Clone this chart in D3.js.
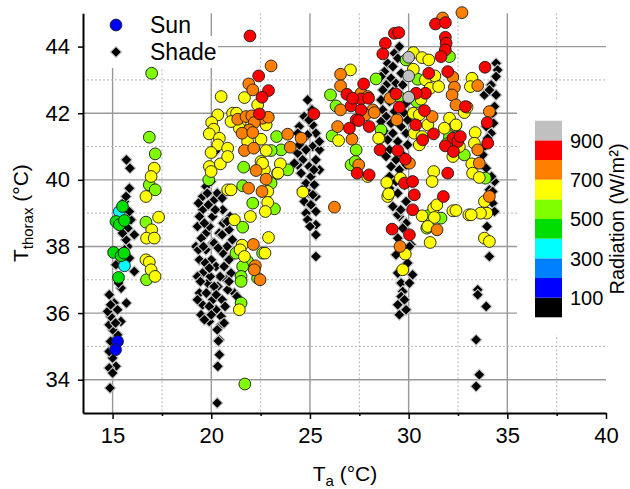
<!DOCTYPE html>
<html>
<head>
<meta charset="utf-8">
<script src="https://cdn.jsdelivr.net/npm/d3@7"></script>
<style>
  body { margin: 0; background: #fff; }
  text { font-family: Arial, "Liberation Sans", sans-serif; fill: #000; }
</style>
</head>
<body>
<svg id="chart" width="630" height="489"></svg>
<script>
// ---- data: [Ta, Tthorax] ----
var shadeT15 = [[14.87,33.75],[15.17,34.4],[14.83,34.35],[15.0,34.65],[14.83,34.85],[15.08,35.0],[14.9,35.15],
  [15.25,35.35],[15.0,35.5],[14.83,35.65],[15.42,35.75],[14.9,35.9],[14.75,36.05],[15.08,36.3],[14.9,36.25],
  [14.83,36.55],[15.7,36.3],[15.43,36.75],[15.17,37.45],[16.1,37.25],[15.85,37.65],[15.77,38.0],[15.68,38.2],
  [16.1,38.35],[15.77,38.55],[15.93,38.8],[15.85,39.05],[15.6,39.35],[15.68,39.5],[15.85,39.75],[15.88,40.35],
  [15.7,40.6],[15.3,36.9],[15.6,37.9],[15.5,38.4],[15.0,34.2],[15.1,34.95],[15.15,35.7],[15.25,36.1]];

var shadeT20 = [[19.56,39.5],[19.73,39.8],[19.99,39.95],[19.56,39.1],[20.15,39.4],[20.07,38.9],[20.58,39.1],
  [20.9,38.5],[21.07,38.2],[19.4,38.9],[19.73,38.4],[20.4,38.4],[20.07,38.1],[19.22,38.0],[19.4,37.6],[19.56,37.2],
  [19.4,36.6],[19.56,36.25],[20.07,36.4],[20.24,36.1],[20.5,35.9],[19.82,36.9],[20.24,37.4],[19.73,37.9],
  [20.15,38.1],[20.58,37.8],[20.33,36.8],[19.48,35.95],[19.9,35.75],[20.5,35.65],[20.4,35.2],[20.41,34.75],
  [20.33,34.4],[20.3,33.3],[21.17,36.6],[20.83,36.7],[20.75,37.0],[20.36,35.16],[19.3,38.6],[19.9,38.6],
  [20.6,38.7],[20.3,39.6],[19.65,38.7],[20.8,38.0],[19.35,37.9],[20.0,37.6],[20.65,37.4],[19.7,37.5],[20.45,37.1],
  [19.95,37.1],[19.3,37.1],[20.9,37.6],[19.75,36.6],[20.15,36.8],[20.55,36.4],[19.3,36.4],[19.9,36.2],[20.7,36.2],
  [20.95,38.9],[20.2,39.1],[19.5,38.25],[20.55,38.35],[19.85,39.25],[20.0,35.95],[20.65,35.7],[20.3,35.5],
  [21.0,37.2],[21.3,36.5],[20.2,40.85],[20.9,36.95],[19.6,38.0],[20.35,37.95],[19.9,37.35],[20.55,39.45],
  [19.35,39.3],[19.45,36.95],[20.25,36.55],[19.65,35.8],[20.8,38.75],[19.8,39.6]];

var shadeT25 = [[24.88,42.4],[24.71,41.9],[24.46,41.6],[25.14,41.65],[25.3,41.4],[24.88,41.35],[24.38,41.4],
  [25.14,41.0],[25.48,40.9],[24.8,40.9],[24.38,40.8],[24.63,40.6],[25.3,40.6],[24.96,40.4],[24.38,40.45],
  [25.48,40.3],[24.55,40.2],[25.05,40.1],[24.8,39.9],[25.22,39.85],[24.96,39.6],[25.3,39.5],[24.71,39.35],
  [25.05,39.25],[25.3,39.05],[24.8,39.0],[24.46,41.05],[24.21,40.5],[25.48,41.15],[24.88,38.8],[25.3,38.65],
  [25.3,38.35],[25.3,37.7],[25.0,38.6],[25.1,42.1],[24.6,41.25],[25.2,40.3],[24.6,39.7],[25.15,39.55],[24.95,41.8]];

var shadeT30 = [[29.53,44.0],[29.28,43.8],[29.45,43.65],[28.94,43.5],[29.2,43.4],[28.77,43.25],[29.62,43.2],
  [28.6,43.1],[29.11,43.05],[29.36,42.9],[28.86,42.85],[29.7,42.85],[28.69,42.7],[29.2,42.65],[29.62,42.5],
  [28.6,42.4],[29.03,42.35],[29.87,42.3],[28.69,42.1],[29.28,42.05],[29.79,42.0],[28.86,41.9],[28.6,41.75],
  [29.11,41.7],[29.95,41.8],[29.62,41.6],[28.77,41.45],[29.2,41.4],[29.87,41.4],[28.94,41.2],[29.45,41.15],
  [29.95,41.05],[29.03,40.9],[29.62,40.8],[28.86,40.7],[29.36,40.6],[29.87,40.45],[29.11,40.4],[29.53,40.3],
  [29.03,40.1],[29.36,39.95],[29.79,39.85],[29.03,39.75],[29.45,39.6],[29.87,39.35],[29.53,38.9],[29.87,38.7],
  [29.7,38.55],[29.45,38.25],[30.12,38.05],[29.36,37.75],[29.95,37.5],[30.2,37.15],[29.62,36.9],[30.04,36.9],
  [29.7,36.65],[29.62,36.5],[29.45,36.25],[29.87,36.1],[29.53,35.95],[29.79,36.4],[29.45,38.95],[29.45,37.2],
  [30.04,38.0],[29.2,39.2],[29.6,39.1]];

var shadeT34 = [[34.43,43.5],[34.51,43.3],[34.43,43.1],[34.18,42.85],[33.84,42.55],[34.43,42.55],[34.09,42.7],
  [34.35,42.2],[34.26,42.0],[34.18,41.4],[33.93,41.6],[33.84,41.0],[33.76,40.75],[33.93,40.35],[34.35,39.95],
  [34.09,39.7],[34.26,39.65],[34.26,39.3],[34.35,39.05],[33.97,38.6],[34.09,37.7],[33.5,36.7],[33.5,36.55],
  [33.93,36.2],[33.42,35.2],[33.58,34.15],[33.42,33.8],[34.3,41.7],[34.0,41.25],[34.2,40.1]];

// sun points, grouped by radiation band (W/m2)
var sunRad150 = [[15.25,35.15],[15.15,34.9]];
var sunRad350 = [[15.34,39.05],[15.6,37.42]];
var sunRad450 = [[15.5,39.2],[15.17,38.75],[15.34,38.65],[15.6,38.78],[15.05,37.82],[15.43,37.72],[15.58,37.8],[15.3,37.07]];
var sunRad550 = [[16.98,43.2],[16.86,41.28],[17.16,40.78],[16.86,39.85],[17.16,39.7],[16.69,38.73],[16.72,37.0],
  [19.87,40.0],[21.64,40.38],[23.54,40.9],[23.31,41.3],[23.36,40.2],[23.87,40.3],[23.03,39.9],[21.59,39.82],
  [22.1,39.3],[23.2,39.13],[21.59,38.58],[21.25,37.8],[21.84,37.55],[22.6,37.8],[21.59,37.4],[21.51,37.1],
  [21.51,36.95],[22.35,37.05],[21.51,36.3],[21.7,33.87],[23.03,40.88],
  [26.04,42.55],[26.32,42.22],[26.12,41.32],[27.34,40.9],[27.08,40.45],[28.6,41.5],[28.35,43.03],[27.3,40.55],
  [29.87,43.6],[32.07,43.7],[30.46,43.02],[30.41,42.35],[32.07,41.3],[32.82,40.75],[31.93,41.08],[33.89,40.05],
  [31.02,38.93],[31.64,38.85],[30.92,38.55],[29.5,42.5]];
var sunRad650 = [[17.11,40.35],[16.95,40.1],[16.69,39.5],[17.33,38.88],[16.98,38.5],[16.72,38.25],[17.11,38.25],
  [16.69,37.6],[16.86,37.53],[16.95,37.3],[17.15,37.1],
  [20.5,42.5],[20.33,41.95],[20.02,41.72],[20.12,41.52],[19.9,41.38],[20.41,41.25],[20.33,41.05],[19.99,40.82],
  [19.9,40.4],[20.46,40.48],[19.99,40.25],[20.83,40.95],[20.83,40.7],[20.83,39.7],[21.68,42.47],[22.35,42.25],
  [21.08,42.0],[21.46,41.7],[22.78,41.65],[22.52,41.22],[21.84,41.15],[22.78,40.88],[22.52,40.55],[23.5,40.48],
  [22.69,40.3],[23.38,40.2],[22.86,39.65],[22.86,39.32],[22.74,39.05],[21.98,38.9],[21.17,38.8],[22.9,38.27],
  [21.56,38.04],[21.46,37.9],[21.68,37.7],[22.72,37.8],[21.42,36.1],[21.42,41.55],[21.28,42.0],[21.0,41.75],
  [22.6,40.5],[24.64,39.63],[21.0,39.7],
  [27.05,43.3],[26.45,41.18],[27.93,40.1],[28.52,41.25],
  [28.94,39.5],[29.83,37.77],[29.7,37.3],[30.68,38.92],[31.27,39.15],[31.3,38.87],[30.97,38.6],[31.09,38.12],
  [32.24,39.07],[33.05,38.95],[31.43,39.25],[30.24,43.82],[30.68,43.67],[31.02,43.6],[30.24,43.32],[30.85,43.0],
  [31.33,43.12],[31.09,42.75],[31.52,42.8],[30.63,42.42],[32.82,42.02],[30.24,42.0],[30.54,41.95],[30.97,41.65],
  [30.29,41.4],[30.68,41.3],[30.54,41.05],[32.07,41.85],[32.37,41.62],[31.81,41.55],[32.24,40.7],[31.27,40.25],
  [31.19,39.95],[28.89,39.92],[28.99,39.58],[29.58,40.05],[32.57,41.0],[28.48,41.25],
  [33.21,43.05],[33.13,42.8],[32.96,42.18],[33.37,41.42],[33.33,41.1],[33.2,40.48],[33.24,40.2],[33.58,40.07],
  [33.84,39.35],[33.96,39.0],[33.64,39.0],[33.17,38.95],[32.4,39.08],[33.84,38.25],[34.09,38.15],[32.4,41.65]];
var sunRad750 = [[23.03,43.42],[21.9,42.88],[22.1,42.7],[21.34,41.82],[21.76,41.9],[22.05,41.92],[22.6,41.85],
  [22.89,41.88],[22.18,41.72],[21.93,41.5],[21.56,41.4],[22.1,41.42],[23.87,41.37],[24.55,41.25],[21.68,40.88],
  [22.15,40.95],[24.0,40.98],[22.27,40.28],[22.78,40.02],[21.89,39.75],[22.57,39.65],[22.13,38.06],[22.23,37.42],
  [22.18,37.3],[22.47,37.0],
  [26.24,39.18],[26.55,43.17],[26.55,42.82],[26.55,42.1],[27.59,42.6],[27.93,42.5],[28.18,42.1],[26.4,41.6],
  [27.81,41.95],[27.13,41.22],[27.47,40.45],[28.26,42.02],
  [32.7,45.02],[31.72,44.86],[32.24,43.08],[32.32,42.78],[32.2,42.55],[32.4,42.25],[31.19,41.9],[29.06,42.45],
  [29.4,41.8],[30.04,40.5],[29.56,38.0],[31.44,38.5],
  [33.5,42.83],[34.09,42.05],[33.5,40.9],[33.58,40.5],[34.09,39.5]];
var sunRad850 = [[21.96,44.32],[22.4,43.12],[22.9,42.68],[22.57,42.48],[22.44,41.98],[25.2,41.98],
  [26.87,42.57],[27.08,42.22],[27.72,42.88],[27.59,42.43],[27.97,42.45],[27.59,42.1],[27.34,41.8],[27.47,41.78],
  [28.0,41.6],[27.0,41.55],[27.39,40.2],[28.0,40.15],[28.55,40.9],[28.82,44.1],[28.69,43.78],[27.16,42.45],
  [29.28,44.4],[29.5,44.42],[31.36,44.68],[31.86,44.72],[31.86,44.28],[31.9,44.1],[31.86,43.9],[31.64,43.7],
  [31.02,43.2],[31.98,43.25],[30.85,42.6],[30.38,42.6],[32.88,42.2],[29.36,42.58],[29.53,42.18],[30.8,42.08],
  [30.36,41.65],[31.26,41.38],[30.71,41.2],[32.24,41.25],[32.49,41.15],[31.86,41.02],[32.27,40.85],[31.98,40.2],
  [31.76,39.5],[29.83,40.62],[29.45,40.88],[29.79,39.9],[30.2,39.95],[30.29,39.55],[30.2,39.1],[29.16,38.52],
  [30.04,38.35],[32.62,41.3],
  [33.87,43.38],[33.98,41.72],[34.01,41.1]];
var sunRad950 = [[30.0,43.68],[30.0,43.12],[30.0,42.48]];

var sunGroups = [[150, sunRad150], [350, sunRad350], [450, sunRad450], [550, sunRad550],
  [650, sunRad650], [750, sunRad750], [850, sunRad850], [950, sunRad950]];

var xTicks = [15, 20, 25, 30, 35, 40];
var xMinor = [17.5, 22.5, 27.5, 32.5, 37.5];
var yTicks = [34, 36, 38, 40, 42, 44];
var yMinor = [35, 37, 39, 41, 43];

var radBreaks = [100, 200, 300, 400, 500, 600, 700, 800, 900];
var radColors = ["#000000", "#0000ff", "#0080ff", "#00ffff", "#00dd00", "#80ff00", "#ffff00", "#ff8000", "#ff0000", "#c0c0c0"];
var radLabels = [100, 300, 500, 700, 900];

// ---- chart ----
var svg = d3.select("#chart");

var x = d3.scaleLinear().domain([13.5, 40]).range([83, 606]);
var y = d3.scaleLinear().domain([33, 45]).range([413, 13.3]);
var color = d3.scaleThreshold().domain(radBreaks).range(radColors);

// grid
var grid = svg.append("g");
grid.selectAll(".vmaj").data(xTicks.slice(0, 5)).enter().append("line")
  .attr("x1", d => x(d)).attr("x2", d => x(d)).attr("y1", y(45)).attr("y2", y(33))
  .attr("stroke", "#999999").attr("stroke-width", 1.4);
grid.selectAll(".vmin").data(xMinor).enter().append("line")
  .attr("x1", d => x(d)).attr("x2", d => x(d)).attr("y1", y(45)).attr("y2", y(33))
  .attr("stroke", "#b4b4b4").attr("stroke-width", 1).attr("stroke-dasharray", "2,2");
grid.selectAll(".hmaj").data(yTicks).enter().append("line")
  .attr("x1", x(13.5)).attr("x2", x(40)).attr("y1", d => y(d)).attr("y2", d => y(d))
  .attr("stroke", "#999999").attr("stroke-width", 1.4);
grid.selectAll(".hmin").data(yMinor).enter().append("line")
  .attr("x1", x(13.5)).attr("x2", x(40)).attr("y1", d => y(d)).attr("y2", d => y(d))
  .attr("stroke", "#b4b4b4").attr("stroke-width", 1).attr("stroke-dasharray", "2,2");

// white backgrounds of legend and colour bar
svg.append("rect").attr("x", 84).attr("y", 12).attr("width", 122).attr("height", 25).attr("fill", "#fff");
svg.append("rect").attr("x", 84).attr("y", 36).attr("width", 134).attr("height", 32).attr("fill", "#fff");
svg.append("rect").attr("x", 517).attr("y", 100).attr("width", 113).attr("height", 235).attr("fill", "#fff");

// shade diamonds
var diamond = d3.symbol().type(d3.symbolSquare).size(62);
var shadeAll = [].concat(shadeT15, shadeT20, shadeT25, shadeT30, shadeT34);
svg.append("g").selectAll("path").data(shadeAll).enter().append("path")
  .attr("d", diamond)
  .attr("transform", d => `translate(${x(d[0])},${y(d[1])}) rotate(45)`)
  .attr("fill", "#000").attr("stroke", "#c4c4c4").attr("stroke-width", 1.1);

// sun circles
var sunAll = [];
sunGroups.forEach(g => g[1].forEach(p => sunAll.push({ta: p[0], tt: p[1], rad: g[0]})));
svg.append("g").selectAll("circle").data(sunAll).enter().append("circle")
  .attr("cx", d => x(d.ta)).attr("cy", d => y(d.tt)).attr("r", 5.9)
  .attr("fill", d => color(d.rad)).attr("stroke", "#1a1a1a").attr("stroke-width", 0.9);

// axes
svg.append("g").attr("transform", `translate(0,${y(33)})`)
  .call(d3.axisBottom(x).tickValues(xTicks).tickSizeInner(6).tickSizeOuter(0).tickPadding(8));
svg.append("g").attr("transform", `translate(0,${y(33)})`)
  .call(d3.axisBottom(x).tickValues(xMinor).tickSizeInner(3).tickSizeOuter(0).tickFormat(""))
  .select(".domain").remove();
svg.append("g").attr("transform", `translate(${x(13.5)},0)`)
  .call(d3.axisLeft(y).tickValues(yTicks).tickSizeInner(5).tickSizeOuter(0).tickPadding(8));

svg.selectAll(".domain").attr("stroke", "#000").attr("stroke-width", 2);
svg.selectAll(".tick line").attr("stroke", "#000").attr("stroke-width", 1.5);
svg.selectAll(".tick text").attr("font-size", 22).attr("fill", "#000")
  .style("font-family", "Arial, 'Liberation Sans', sans-serif");

// axis titles
var xt = svg.append("text").attr("x", 345).attr("y", 481).attr("text-anchor", "middle").attr("font-size", 21);
xt.append("tspan").text("T");
xt.append("tspan").attr("font-size", 15).attr("dy", 5).text("a");
xt.append("tspan").attr("dy", -5).text(" (°C)");

var yt = svg.append("text").attr("transform", `translate(28,${(y(33) + y(45)) / 2}) rotate(-90)`)
  .attr("text-anchor", "middle").attr("font-size", 21);
yt.append("tspan").text("T");
yt.append("tspan").attr("font-size", 15).attr("dy", 5).text("thorax");
yt.append("tspan").attr("dy", -5).text(" (°C)");

// legend
svg.append("circle").attr("cx", 116).attr("cy", 25).attr("r", 5.9)
  .attr("fill", "#0000ff").attr("stroke", "#1a1a1a").attr("stroke-width", 0.9);
svg.append("path").attr("d", diamond).attr("transform", "translate(116,52) rotate(45)")
  .attr("fill", "#000").attr("stroke", "#c4c4c4").attr("stroke-width", 1.1);
svg.append("text").attr("x", 150).attr("y", 33).attr("font-size", 23).text("Sun");
svg.append("text").attr("x", 150).attr("y", 60).attr("font-size", 23).text("Shade");

// colour bar
var cb = d3.scaleLinear().domain([0, 1000]).range([317.3, 120.7]);
svg.append("g").selectAll("rect").data(radColors).enter().append("rect")
  .attr("x", 535).attr("width", 27)
  .attr("y", (d, i) => cb((i + 1) * 100)).attr("height", (d, i) => cb(i * 100) - cb((i + 1) * 100))
  .attr("fill", d => d);
svg.append("g").selectAll("text").data(radLabels).enter().append("text")
  .attr("x", 570).attr("y", d => cb(d)).attr("dy", "0.36em").attr("font-size", 20)
  .text(d => d);
svg.append("text").attr("transform", `translate(624,${(cb(0) + cb(1000)) / 2}) rotate(-90)`)
  .attr("text-anchor", "middle").attr("font-size", 20).text("Radiation (W/m²)");
</script>
</body>
</html>
